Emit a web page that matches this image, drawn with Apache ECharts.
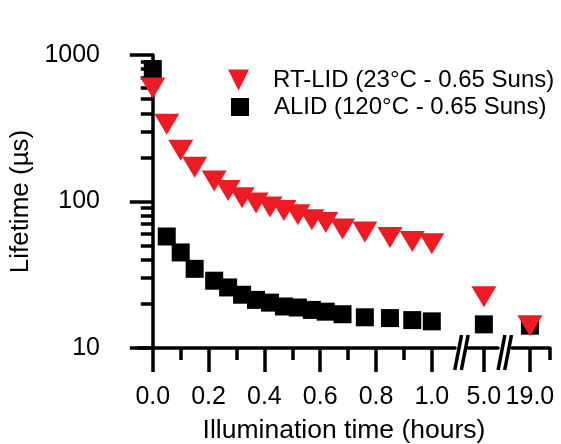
<!DOCTYPE html>
<html>
<head>
<meta charset="utf-8">
<script src="https://cdn.jsdelivr.net/npm/echarts@6/dist/echarts.min.js"></script>
<style>
html,body{margin:0;padding:0;background:#fff;}
#chart{width:561px;height:444px;}
</style>
</head>
<body>
<div id="chart"></div>
<script>
// ---- data ----
const hours = [0, 0.05, 0.1, 0.15, 0.22, 0.27, 0.32, 0.37, 0.42, 0.47, 0.52, 0.57, 0.62, 0.68, 0.76, 0.85, 0.93, 1.0, 5.0, 19.0];
const rtLid = [596, 337, 224, 171, 138, 119, 106, 97.7, 91.7, 86.9, 81.3, 75.1, 72.0, 64.9, 61.9, 56.9, 53.4, 51.5, 22.4, 14.2];
const alid  = [802, 57.7, 44.9, 34.7, 28.8, 25.9, 23.1, 21.3, 20.4, 19.2, 18.9, 18.2, 17.7, 17.0, 16.2, 16.0, 15.5, 15.2, 14.5, 14.2];
const seriesNames = ['RT-LID (23°C - 0.65 Suns)', 'ALID (120°C - 0.65 Suns)'];
const xMajorTicks = [0, 0.2, 0.4, 0.6, 0.8, 1.0, 5.0, 19.0];
const xMinorTicks = [0.1, 0.3, 0.5, 0.7, 0.9];
const yMajorTicks = [10, 100, 1000];
const yMinorTicks = [20, 30, 40, 50, 60, 70, 80, 90, 200, 300, 400, 500, 600, 700, 800, 900];
const xMin = -0.053, xMax = 19.072;
const axisBreaks = [
  { start: 1.083, end: 4.943, gap: 0.0466 },
  { start: 5.05, end: 18.935, gap: 0.05 }
];
const xTitle = 'Illumination time (hours)';
const yTitle = 'Lifetime (µs)';

// ---- chart ----
const FONT = '"Liberation Sans", Arial, Helvetica, sans-serif';
const chart = echarts.init(document.getElementById('chart'), null, { renderer: 'canvas' });
const triPath = 'path://M0,0L10,0L5,10Z';
const sqPath = 'path://M0,0L10,0L10,10L0,10Z';
const RED = '#ED1C24';
const LW = 3.5;

const xCommon = {
  type: 'value', min: xMin, max: xMax, position: 'bottom',
  breaks: axisBreaks.map(b => Object.assign({}, b)),
  breakArea: { show: false },
  breakLabelLayout: { moveOverlap: false },
  splitLine: { show: false }, minorTick: { show: false }, minorSplitLine: { show: false }
};
const yCommon = {
  type: 'log', logBase: 10, min: 10, max: 1000, position: 'left',
  splitLine: { show: false }, minorTick: { show: false }
};

chart.setOption({
  animation: false,
  backgroundColor: '#fff',
  grid: { left: 138, right: 11, top: 55, bottom: 96, outerBoundsMode: 'none', containLabel: false },
  legend: [
    {
      data: [{ name: seriesNames[0], icon: triPath }],
      left: 228, top: 68, padding: 0, itemWidth: 25, itemHeight: 21,
      selectedMode: false,
      textStyle: { fontFamily: FONT, fontSize: 24, color: '#000', padding: [0, 0, 0, 17] }
    },
    {
      data: [{ name: seriesNames[1], icon: sqPath }],
      left: 231, top: 95, padding: 0, itemWidth: 18, itemHeight: 18,
      selectedMode: false,
      textStyle: { fontFamily: FONT, fontSize: 24, color: '#000', padding: [0, 0, 0, 20] }
    }
  ],
  xAxis: [
    Object.assign({}, xCommon, {
      name: xTitle, nameLocation: 'middle', nameGap: 69,
      nameTextStyle: { fontFamily: FONT, fontSize: 26.5, color: '#000' },
      axisLine: { show: true, onZero: false, lineStyle: { color: '#000', width: LW } },
      axisTick: { show: true, inside: false, length: 24, customValues: xMajorTicks, lineStyle: { color: '#000', width: LW } },
      axisLabel: { show: true, margin: 37, customValues: xMajorTicks, fontFamily: FONT, fontSize: 25, color: '#000',
        formatter: v => Number(v).toFixed(1) }
    }),
    Object.assign({}, xCommon, {
      axisLine: { show: false, onZero: false },
      axisTick: { show: true, inside: false, length: 12, customValues: xMinorTicks.concat([xMax]), lineStyle: { color: '#000', width: LW } },
      axisLabel: { show: false }
    })
  ],
  yAxis: [
    Object.assign({}, yCommon, {
      name: yTitle, nameLocation: 'middle', nameGap: 100, nameRotate: 90,
      nameTextStyle: { fontFamily: FONT, fontSize: 26, color: '#000' },
      axisLine: { show: true, lineStyle: { color: '#000', width: LW } },
      axisTick: { show: true, inside: false, length: 23, customValues: yMajorTicks, lineStyle: { color: '#000', width: LW } },
      axisLabel: { show: true, margin: 38, customValues: yMajorTicks, fontFamily: FONT, fontSize: 25, color: '#000',
        formatter: v => String(Math.round(v)) }
    }),
    Object.assign({}, yCommon, {
      axisLine: { show: false },
      axisTick: { show: true, inside: false, length: 12, customValues: yMinorTicks, lineStyle: { color: '#000', width: LW } },
      axisLabel: { show: false }
    })
  ],
  series: [
    {
      name: seriesNames[1], type: 'scatter', xAxisIndex: 0, yAxisIndex: 0,
      symbol: sqPath, symbolSize: [18, 18],
      itemStyle: { color: '#000', opacity: 1 },
      data: hours.map((h, i) => [h, alid[i]])
    },
    {
      name: seriesNames[0], type: 'scatter', xAxisIndex: 0, yAxisIndex: 0,
      symbol: triPath, symbolSize: [25, 21],
      itemStyle: { color: RED, opacity: 1 },
      data: hours.map((h, i) => [h, rtLid[i]])
    }
  ]
});

// double-slash break markers on the x axis line, positioned from the axis scale
const axisY = chart.convertToPixel({ yAxisIndex: 0 }, 10);
const slashes = [];
axisBreaks.forEach(b => {
  const a = chart.convertToPixel({ xAxisIndex: 0 }, b.start);
  const c = chart.convertToPixel({ xAxisIndex: 0 }, b.end);
  const cx = (a + c) / 2;
  [-3.3, 3.3].forEach(off => {
    slashes.push({
      type: 'line', z: 100,
      shape: { x1: cx + off - 3.4, y1: axisY + 22, x2: cx + off + 3.4, y2: axisY - 13 },
      style: { stroke: '#000', lineWidth: LW }
    });
  });
});
chart.setOption({ graphic: slashes });
</script>
</body>
</html>
